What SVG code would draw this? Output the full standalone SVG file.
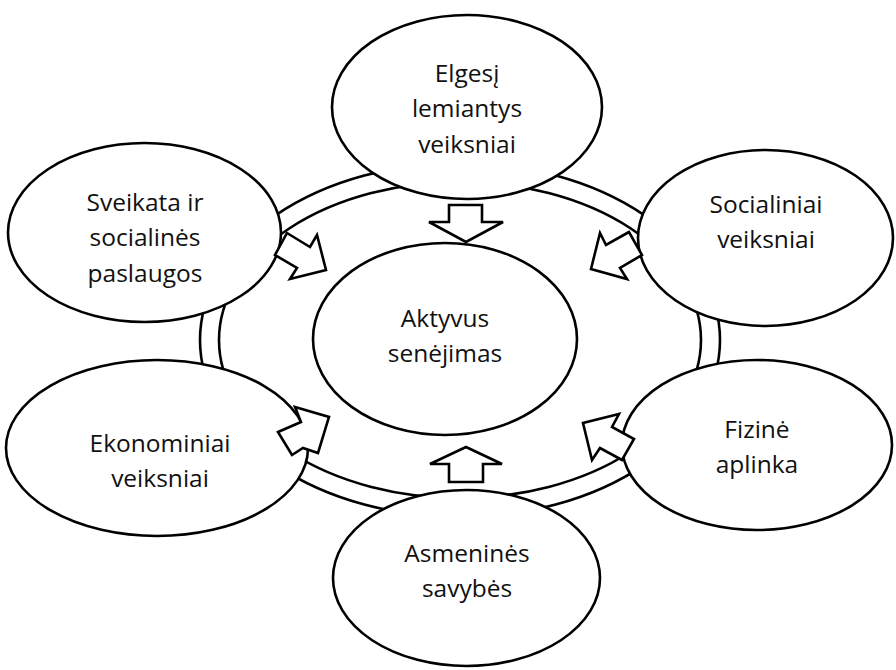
<svg xmlns="http://www.w3.org/2000/svg" width="896" height="670" viewBox="0 0 896 670">
<style>
.shape{fill:#fff;stroke:#000;stroke-width:2.6}
.arrow{fill:#fff;stroke:#000;stroke-width:2.6;stroke-linejoin:miter}
text{font-family:"Open Sans","Noto Sans",sans-serif;font-size:24.5px;fill:#111;text-anchor:middle}
</style>
<rect width="896" height="670" fill="#fff"/>
<g id="ring">
<ellipse class="shape" cx="460" cy="340" rx="260" ry="177"/>
<ellipse class="shape" cx="460" cy="340" rx="241" ry="158"/>
</g>
<g id="center">
<ellipse class="shape" cx="445" cy="339" rx="132" ry="96"/>
<text x="445" y="327">Aktyvus</text>
<text x="445" y="362">senėjimas</text>
</g>
<g id="elgesi">
<ellipse class="shape" cx="467" cy="107" rx="135" ry="92"/>
<text x="467" y="82">Elgesį</text>
<text x="467" y="117">lemiantys</text>
<text x="467" y="153">veiksniai</text>
</g>
<g id="sveikata">
<ellipse class="shape" cx="144.5" cy="232.5" rx="136.5" ry="89.5"/>
<text x="145" y="211">Sveikata ir</text>
<text x="145" y="246">socialinės</text>
<text x="145" y="282">paslaugos</text>
</g>
<g id="socialiniai">
<ellipse class="shape" cx="765.5" cy="238" rx="127.5" ry="88"/>
<text x="766" y="213">Socialiniai</text>
<text x="766" y="248">veiksniai</text>
</g>
<g id="ekonominiai">
<ellipse class="shape" cx="157" cy="448" rx="151" ry="88"/>
<text x="160" y="452">Ekonominiai</text>
<text x="160" y="487">veiksniai</text>
</g>
<g id="fizine">
<ellipse class="shape" cx="757" cy="445" rx="135" ry="85"/>
<text x="757" y="438">Fizinė</text>
<text x="757" y="473">aplinka</text>
</g>
<g id="asmenines">
<ellipse class="shape" cx="466.5" cy="578" rx="133.5" ry="88"/>
<text x="467" y="562">Asmeninės</text>
<text x="467" y="597">savybės</text>
</g>
<g id="connectors">
<polygon class="arrow" points="449,205 482,205 482,222 503,222 466,242 429,222 449,222"/>
<polygon class="arrow" points="466,447 502,464 483,464 483,482 449,482 449,464 430,464"/>
<polygon class="arrow" points="287,233 310,247 317,235 326,270 290,279 297,268 275,255"/>
<polygon class="arrow" points="629,232 606,245 600,233 591,269 627,279 620,268 642,255"/>
<polygon class="arrow" points="278,432 301,422 295,407 329,417 318,453 303,448 292,455"/>
<polygon class="arrow" points="622,460 600,448 592,460 583,423 619,414 612,427 634,439"/>
</g>
</svg>
